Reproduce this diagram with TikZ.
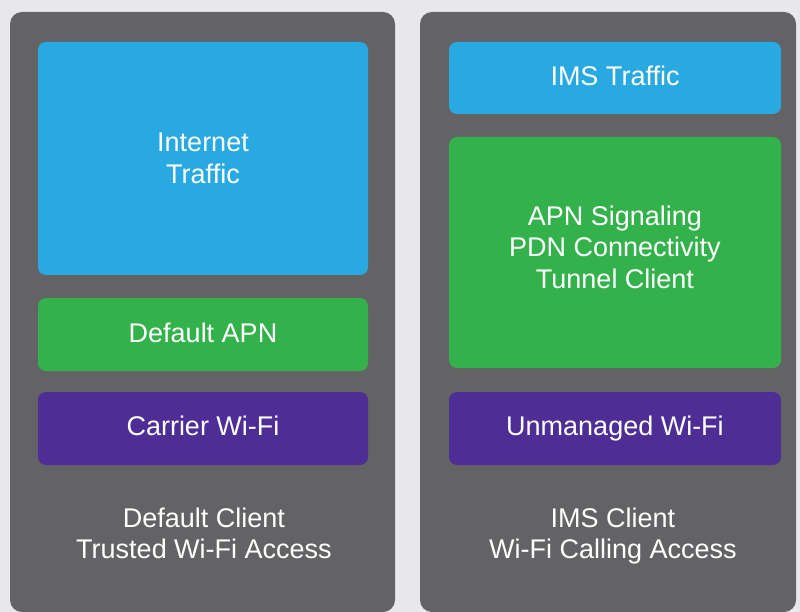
\documentclass[tikz,border=0pt]{standalone}
\usepackage{fontspec}
\setmainfont{Liberation Sans}
\definecolor{bgc}{RGB}{232,232,234}
\definecolor{panelc}{RGB}{99,99,102}
\definecolor{cblue}{RGB}{41,169,225}
\definecolor{cgreen}{RGB}{51,178,75}
\definecolor{cpurple}{RGB}{78,45,148}
\begin{document}
\begin{tikzpicture}[x=1pt,y=-1pt,
  panelbox/.style={fill=panelc,draw=none,rounded corners=12pt,inner sep=0pt,outer sep=0pt},
  layerbox/.style={draw=none,rounded corners=8pt,inner sep=0pt,outer sep=0pt},
  lbl/.style={text=white,anchor=base,inner sep=0pt,font=\fontsize{27}{32}\selectfont}]
\useasboundingbox (0,0) rectangle (800,612);
\fill[bgc] (0,0) rectangle (800,612);
% panels
\node[panelbox,minimum width=385pt,minimum height=600pt] (pl) at (202.5,312) {};
\node[panelbox,minimum width=376pt,minimum height=600pt] (pr) at (608,312) {};
% left column
\node[layerbox,fill=cblue,minimum width=330pt,minimum height=233pt] (lb) at (203,158.5) {};
\node[layerbox,fill=cgreen,minimum width=330pt,minimum height=73pt] (lg) at (203,334.5) {};
\node[layerbox,fill=cpurple,minimum width=330pt,minimum height=73pt] (lp) at (203,428.5) {};
% right column
\node[layerbox,fill=cblue,minimum width=332pt,minimum height=72pt] (rb) at (615,78) {};
\node[layerbox,fill=cgreen,minimum width=332pt,minimum height=231pt] (rg) at (615,252.5) {};
\node[layerbox,fill=cpurple,minimum width=332pt,minimum height=73pt] (rp) at (615,428.5) {};
% texts
\node[lbl] (t1) at (203,152) {Internet};
\node[lbl] (t2) at (203,184) {Traffic};
\node[lbl] (t3) at (203,342) {Default APN};
\node[lbl] (t4) at (203,435) {Carrier Wi-Fi};
\node[lbl] (t5) at (204,527) {Default Client};
\node[lbl] (t6) at (204,558) {Trusted Wi-Fi Access};
\node[lbl] (t7) at (615,86) {IMS Traffic};
\node[lbl] (t8) at (615,226) {APN Signaling};
\node[lbl] (t9) at (615,257) {PDN Connectivity};
\node[lbl] (t10) at (615,288) {Tunnel Client};
\node[lbl] (t11) at (615,435) {Unmanaged Wi-Fi};
\node[lbl] (t12) at (613,527) {IMS Client};
\node[lbl] (t13) at (613,558) {Wi-Fi Calling Access};
\end{tikzpicture}
\end{document}
